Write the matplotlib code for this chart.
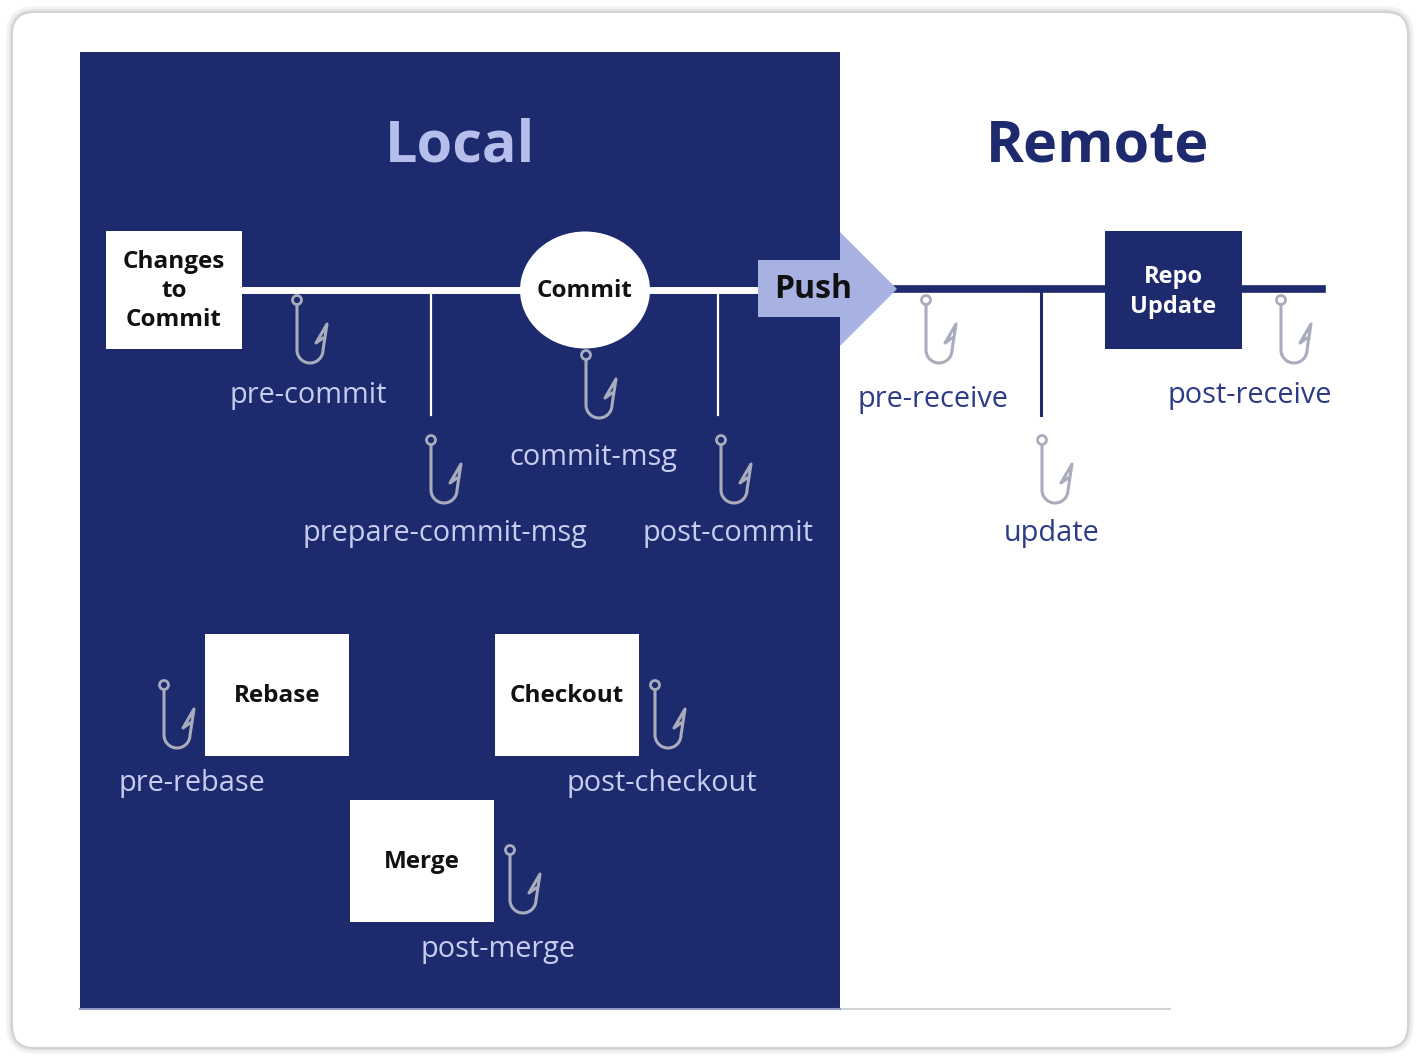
import numpy as np
import matplotlib
matplotlib.use("Agg")
import matplotlib.pyplot as plt
from matplotlib.patches import Rectangle, Ellipse, Circle, Polygon, FancyBboxPatch

plt.rcParams['font.family'] = ['Open Sans', 'DejaVu Sans']

NAVY = '#1e2a6e'
LAVENDER = '#b6bfec'
LABEL_ON_NAVY = '#c8cdf0'
LABEL_ON_WHITE = '#2d3b86'
PUSH_BLUE = '#a7b2e3'
HOOK_GREY = '#a9acbd'

# the hook names and where each hook hangs (eye position, pixels)
hook_names = ['pre-commit', 'commit-msg', 'prepare-commit-msg', 'post-commit',
              'pre-receive', 'update', 'post-receive',
              'pre-rebase', 'post-checkout', 'post-merge']
hook_x = [297, 586, 431, 721, 926, 1042, 1281, 164, 655, 510]
hook_y = [300, 355, 440, 440, 300, 440, 300, 685, 685, 850]
label_x = [308, 593, 445, 728, 933, 1052, 1250, 192, 662, 498]
label_y = [395, 457, 533, 533, 399, 534, 395, 783, 783, 949]
on_navy = [True, True, True, True, False, False, False, True, True, True]

# white boxes in the local side
box_names = ['Changes\nto\nCommit', 'Rebase', 'Checkout', 'Merge']
box_x0 = [106, 205, 495, 350]
box_y0 = [231, 634, 634, 800]
box_w = [136, 144, 144, 144]
box_h = [118, 122, 122, 122]


def draw_hook(ax, x, y, color):
    ax.add_patch(Circle((x, y), 4.5, fill=False, ec=color, lw=2.0, zorder=5))
    th = np.linspace(np.pi, 0, 40)
    cx, cy, r = x + 13, y + 50, 13
    xs = [x, x] + list(cx + r * np.cos(th)) + [x + 30, x + 19, x + 26]
    ys = [y + 5, y + 50] + list(cy + r * np.sin(th)) + [y + 24, y + 43, y + 38]
    ax.plot(xs, ys, color=color, lw=2.2, solid_capstyle='round',
            solid_joinstyle='round', zorder=5)


fig = plt.figure(figsize=(14.2, 10.6), dpi=100)
ax = fig.add_axes([0, 0, 1, 1])
ax.set_xlim(0, 1420)
ax.set_ylim(1060, 0)
ax.axis('off')

# card with soft shadow
for lw, c in [(8, '#f2f2f2'), (4, '#e4e4e4'), (1.5, '#d2d2d2')]:
    ax.add_patch(FancyBboxPatch((12, 12), 1396, 1036, boxstyle='round,pad=0,rounding_size=22',
                                fc='white', ec=c, lw=lw, zorder=0))

# local panel
ax.add_patch(Rectangle((80, 52), 760, 956, fc=NAVY, ec='none', zorder=1))
ax.plot([840, 1170], [1009, 1009], color='#d4d4d8', lw=1.5, zorder=1)
ax.plot([80, 840], [1009, 1009], color='#8e97c8', lw=1.5, zorder=1)

ax.text(460, 146, 'Local', color=LAVENDER, fontsize=41.5, fontweight='bold',
        ha='center', va='center', zorder=3)
ax.text(1098, 146, 'Remote', color=NAVY, fontsize=41.5, fontweight='bold',
        ha='center', va='center', zorder=3)

# local timeline
ax.plot([242, 760], [290, 290], color='white', lw=5, zorder=2)
ax.plot([431, 431], [290, 415], color='white', lw=1.6, zorder=2)
ax.plot([718, 718], [290, 415], color='white', lw=1.6, zorder=2)

# remote timeline
ax.plot([895, 1322], [289, 289], color=NAVY, lw=5.5, zorder=2)
ax.plot([1041, 1041], [289, 415], color=NAVY, lw=2.2, zorder=2)

# boxes
for name, x0, y0, w, h in zip(box_names, box_x0, box_y0, box_w, box_h):
    ax.add_patch(Rectangle((x0, y0), w, h, fc='white', ec='none', zorder=3))
    ax.text(x0 + w / 2, y0 + h / 2 + 1, name, color='#111111', fontsize=17.5,
            fontweight='bold', ha='center', va='center', linespacing=1.3, zorder=4)

# commit circle
ax.add_patch(Ellipse((585, 290), 130, 117, fc='white', ec='none', zorder=3))
ax.text(585, 291, 'Commit', color='#111111', fontsize=17.5, fontweight='bold',
        ha='center', va='center', zorder=4)

# push arrow
ax.add_patch(Polygon([(758, 260), (840, 260), (840, 232), (897, 289),
                      (840, 346), (840, 317), (758, 317)],
                     closed=True, fc=PUSH_BLUE, ec='none', zorder=3))
ax.text(813, 290, 'Push', color='#111111', fontsize=23, fontweight='bold',
        ha='center', va='center', zorder=4)

# repo update box
ax.add_patch(Rectangle((1105, 231), 137, 118, fc=NAVY, ec='none', zorder=3))
ax.text(1173, 292, 'Repo\nUpdate', color='white', fontsize=17,
        fontweight='bold', ha='center', va='center', linespacing=1.35, zorder=4)

# hooks and their names
for name, hx, hy, lx, ly, nv in zip(hook_names, hook_x, hook_y, label_x, label_y, on_navy):
    draw_hook(ax, hx, hy, HOOK_GREY)
    ax.text(lx, ly, name, color=LABEL_ON_NAVY if nv else LABEL_ON_WHITE,
            fontsize=20.8, ha='center', va='center', zorder=4)

fig.savefig('out.png', dpi=100, facecolor='white')
